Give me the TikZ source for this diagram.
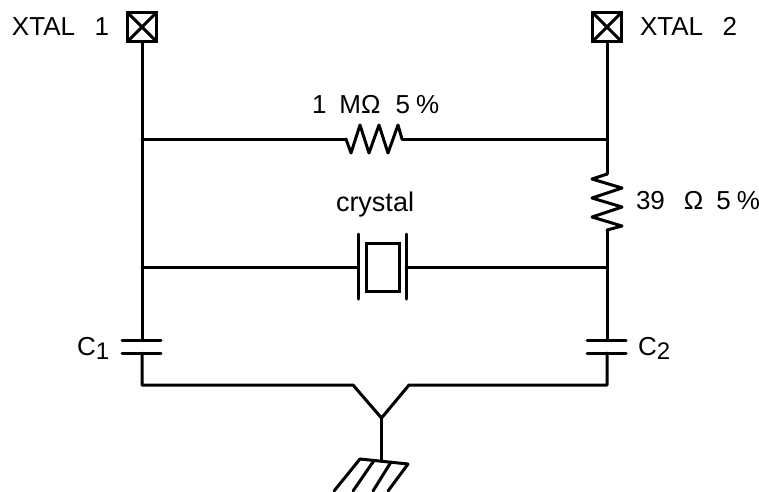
\documentclass[tikz,border=0pt]{standalone}
\usepackage{fontspec}
\setmainfont{Liberation Sans}
\tikzset{
  wire/.style={line width=3pt,line join=round,line cap=round},
  padbox/.style={draw,line width=3pt,minimum size=29pt,inner sep=0pt,outer sep=0pt},
  lbl/.style={inner sep=0pt,outer sep=0pt,anchor=base west,font=\fontsize{26}{30}\selectfont},
}
\newcommand{\subsc}[1]{\raisebox{-4pt}{\fontsize{24}{28}\selectfont #1}}
\begin{document}
\begin{tikzpicture}[x=1pt,y=-1pt]
\useasboundingbox (0,0) rectangle (759,491);
% pads
\node[padbox] (pad1) at (142,27) {};
\node[padbox] (pad2) at (607,27) {};
\draw[wire] (pad1.north west) -- (pad1.south east) (pad1.north east) -- (pad1.south west);
\draw[wire] (pad2.north west) -- (pad2.south east) (pad2.north east) -- (pad2.south west);
% junctions and terminals
\coordinate (jl1) at (142,139);
\coordinate (jr1) at (607,139);
\coordinate (jl2) at (142,267);
\coordinate (jr2) at (607,267);
\coordinate (r1a) at (346,139);
\coordinate (r1b) at (402,139);
\coordinate (r2a) at (607,174);
\coordinate (r2b) at (607,230);
\coordinate (c1t) at (142,340);
\coordinate (c1b) at (142,353);
\coordinate (c2t) at (607,340);
\coordinate (c2b) at (607,353);
\coordinate (bl) at (142,385);
\coordinate (br) at (607,385);
\coordinate (yl) at (353,385);
\coordinate (yr) at (409,385);
\coordinate (yc) at (381.5,418);
\coordinate (gc) at (381.5,461);
\coordinate (xl) at (358,267);
\coordinate (xr) at (406,267);
% wires
\draw[wire] (pad1.south) -- (jl1) -- (jl2) -- (c1t);
\draw[wire] (pad2.south) -- (jr1) -- (r2a);
\draw[wire] (r2b) -- (jr2) -- (c2t);
\draw[wire] (jl1) -- (r1a);
\draw[wire] (r1b) -- (jr1);
\draw[wire] (jl2) -- (xl);
\draw[wire] (xr) -- (jr2);
\draw[wire] (c1b) -- (bl) -- (yl) -- (yc) -- (yr) -- (br) -- (c2b);
\draw[wire] (yc) -- (gc);
% resistors
\draw[wire] (r1a) -- (351,153) -- (360,125) -- (369,153) -- (379,125) -- (388,153) -- (398,125) -- (r1b);
\draw[wire] (r2a) -- (592,179) -- (622,188) -- (592,198) -- (622,207) -- (592,217) -- (622,226) -- (r2b);
% crystal
\draw[wire] (xl |- 0,234) -- (xl |- 0,299);
\draw[wire] (xr |- 0,234) -- (xr |- 0,299);
\node[draw,line width=3pt,inner sep=0pt,outer sep=0pt,minimum width=33pt,minimum height=48pt] (xtal) at (382.5,267) {};
% capacitors
\draw[wire] (122,340) -- (161,340) (122,353) -- (161,353);
\draw[wire] (587,340) -- (626,340) (587,353) -- (626,353);
% ground
\draw[wire] (360,459) -- (408,464);
\draw[wire] (360,459) -- (334,491);
\draw[wire] (374,460.5) -- (353,491);
\draw[wire] (391,462) -- (373,491);
\draw[wire] (408,464) -- (388,491);
% labels
\node[lbl] (t1) at (12,35) {XTAL\hspace{19.5pt}1};
\node[lbl] (t2) at (640,35) {XTAL\hspace{19.5pt}2};
\node[lbl] (t3) at (312,113) {1\hspace{13pt}MΩ\hspace{15pt}5\hspace{6pt}\%};
\node[lbl,font=\fontsize{27}{30}\selectfont] (t4) at (336,211) {crystal};
\node[lbl] (t5) at (636,209) {39\hspace{19pt}Ω\hspace{13pt}5\hspace{6pt}\%};
\node[lbl] (t6) at (77,355) {C\subsc{1}};
\node[lbl] (t7) at (638,355) {C\subsc{2}};
\end{tikzpicture}
\end{document}
